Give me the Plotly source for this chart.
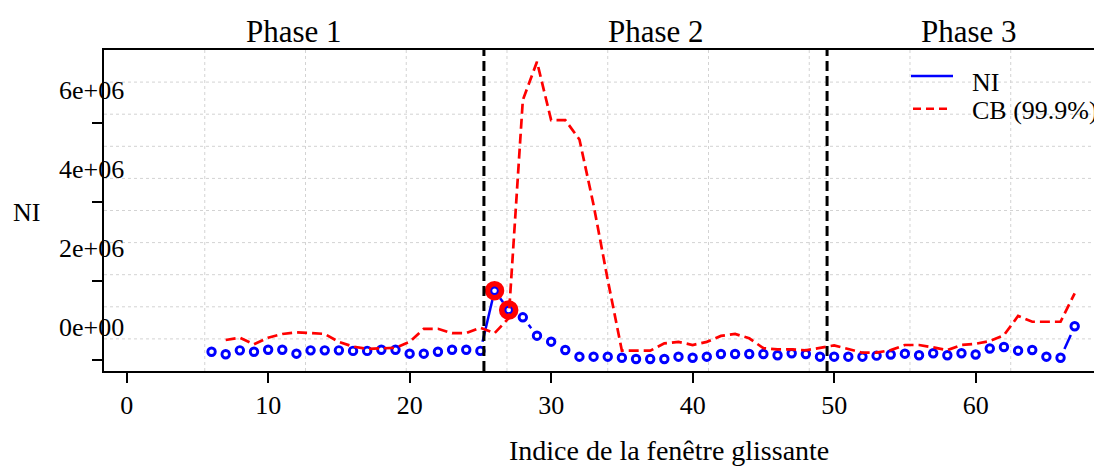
import math
import plotly.graph_objects as go

# ---------------- data ----------------
x_ni = list(range(6, 68))
ni_values = [
    0.21e6, 0.145e6, 0.245e6, 0.21e6, 0.26e6, 0.26e6, 0.16e6, 0.245e6, 0.245e6, 0.245e6,
    0.23e6, 0.23e6, 0.26e6, 0.26e6, 0.16e6, 0.16e6, 0.21e6, 0.26e6, 0.26e6, 0.23e6,
    1.757e6, 1.267e6, 1.082e6, 0.616e6, 0.464e6, 0.253e6, 0.084e6, 0.084e6, 0.084e6, 0.058e6,
    0.025e6, 0.025e6, 0.025e6, 0.084e6, 0.058e6, 0.084e6, 0.152e6, 0.152e6, 0.152e6, 0.152e6,
    0.12e6, 0.17e6, 0.152e6, 0.084e6, 0.084e6, 0.084e6, 0.084e6, 0.11e6, 0.14e6, 0.16e6,
    0.12e6, 0.17e6, 0.12e6, 0.17e6, 0.14e6, 0.29e6, 0.33e6, 0.236e6, 0.253e6, 0.084e6,
    0.058e6, 0.854e6,
]
x_cb = list(range(7, 68))
cb_values = [
    0.507e6, 0.565e6, 0.40e6, 0.565e6, 0.66e6, 0.70e6, 0.685e6, 0.66e6, 0.46e6, 0.34e6,
    0.28e6, 0.30e6, 0.31e6, 0.46e6, 0.79e6, 0.79e6, 0.68e6, 0.68e6, 0.82e6, 0.68e6,
    1.06e6, 6.59e6, 7.56e6, 6.08e6, 6.08e6, 5.59e6, 3.93e6, 2.03e6, 0.236e6, 0.236e6,
    0.236e6, 0.42e6, 0.46e6, 0.38e6, 0.46e6, 0.61e6, 0.66e6, 0.55e6, 0.30e6, 0.27e6,
    0.27e6, 0.245e6, 0.30e6, 0.37e6, 0.28e6, 0.185e6, 0.185e6, 0.25e6, 0.38e6, 0.38e6,
    0.32e6, 0.25e6, 0.38e6, 0.41e6, 0.48e6, 0.63e6, 1.115e6, 0.97e6, 0.97e6, 0.97e6,
    1.69e6,
]
highlight_x = [26, 27]
phase_bounds = [25.25, 49.5]
phase_labels = ["Phase 1", "Phase 2", "Phase 3"]
x_ticks = [0, 10, 20, 30, 40, 50, 60]
y_ticks = [0, 2e6, 4e6, 6e6]
y_tick_labels = ["0e+00", "2e+06", "4e+06", "6e+06"]
legend_labels = ["NI", "CB (99.9%)"]

# ---------------- layout geometry ----------------
OFF = 8                      # page body margin of the html page
W, H = 1102 - OFF, 466 - OFF
PL, PT, PB = 104, 50, 371    # plot region in page pixels
ML, MT, MB, MR = PL - OFF, PT - OFF, 466 - PB, 0
PW, PH = W - ML - MR, H - MT - MB
XR = (-1.6, 69.6)          # full plot-region range (right side cropped)
X_VIS = (-1.6, 68.93)      # visible part
YR = (-0.279e6, 7.858e6)
sx = PW / (X_VIS[1] - X_VIS[0])
sy = PH / (YR[1] - YR[0])

FONT = "Liberation Serif"
BLUE = "#0000FF"
RED = "#FF0000"

# type="b" style line: segments with gaps around each point
GAP = 9.5
seg_x, seg_y = [], []
for i in range(len(x_ni) - 1):
    xa, ya, xb, yb = x_ni[i], ni_values[i], x_ni[i + 1], ni_values[i + 1]
    d = math.hypot((xb - xa) * sx, (yb - ya) * sy)
    if d > 2 * GAP:
        f = GAP / d
        seg_x += [xa + (xb - xa) * f, xb - (xb - xa) * f, None]
        seg_y += [ya + (yb - ya) * f, yb - (yb - ya) * f, None]

hl_y = [ni_values[x_ni.index(v)] for v in highlight_x]

fig = go.Figure()
fig.add_trace(go.Scatter(x=seg_x, y=seg_y, mode="lines",
                         line=dict(color=BLUE, width=2.5), showlegend=False, hoverinfo="skip"))
fig.add_trace(go.Scatter(x=x_ni, y=ni_values, mode="markers", name=legend_labels[0],
                         marker=dict(symbol="circle-open", size=7.5, color=BLUE,
                                     line=dict(color=BLUE, width=2.9)),
                         showlegend=False))
fig.add_trace(go.Scatter(x=x_cb, y=cb_values, mode="lines", name=legend_labels[1],
                         line=dict(color=RED, width=2.7, dash="10px,5px"), showlegend=False))
fig.add_trace(go.Scatter(x=highlight_x, y=hl_y, mode="markers",
                         marker=dict(symbol="circle-open", size=14, color=RED,
                                     line=dict(color=RED, width=5.5)),
                         showlegend=False, hoverinfo="skip"))

shapes = []
# dotted grid: 10 equal cells of the plot region
for k in range(1, 10):
    gx = XR[0] + k * (XR[1] - XR[0]) / 10
    if gx < X_VIS[1]:
        shapes.append(dict(type="line", xref="x", yref="paper", x0=gx, x1=gx, y0=0, y1=1,
                           line=dict(color="#D3D3D3", width=1, dash="dot"), layer="below"))
    gy = YR[0] + k * (YR[1] - YR[0]) / 10
    shapes.append(dict(type="line", xref="paper", yref="y", x0=0, x1=1, y0=gy, y1=gy,
                       line=dict(color="#D3D3D3", width=1, dash="dot"), layer="below"))
# phase boundaries
for b in phase_bounds:
    shapes.append(dict(type="line", xref="x", yref="paper", x0=b, x1=b, y0=0, y1=1,
                       line=dict(color="black", width=3, dash="10px,5px")))


def px_to_paper(px, py):
    """page pixel -> paper fraction"""
    return (px - PL) / PW, (PB - py) / PH


# manual legend (R-style)
lx0, ly0 = px_to_paper(911, 76)
lx1, _ = px_to_paper(953, 76)
shapes.append(dict(type="line", xref="paper", yref="paper", x0=lx0, x1=lx1, y0=ly0, y1=ly0,
                   line=dict(color=BLUE, width=2.5)))
rx0, ry0 = px_to_paper(913, 108.7)
rx1, _ = px_to_paper(950, 108.7)
shapes.append(dict(type="line", xref="paper", yref="paper", x0=rx0, x1=rx1, y0=ry0, y1=ry0,
                   line=dict(color=RED, width=2.5, dash="8px,5px")))

annotations = []
tx, ty1 = px_to_paper(970, 82)
_, ty2 = px_to_paper(970, 110)
annotations.append(dict(text=legend_labels[0], xref="paper", yref="paper", x=tx, y=ty1,
                        xanchor="left", yanchor="middle", showarrow=False,
                        font=dict(family=FONT, size=26, color="black")))
annotations.append(dict(text=legend_labels[1], xref="paper", yref="paper", x=tx, y=ty2,
                        xanchor="left", yanchor="middle", showarrow=False,
                        font=dict(family=FONT, size=26, color="black")))

# y tick labels (shifted upward as in the reference)
for v, t in zip(y_ticks, y_tick_labels):
    annotations.append(dict(text=t, xref="paper", yref="y", x=0, y=v, xanchor="right",
                            yanchor="middle", xshift=22, yshift=32.5, showarrow=False,
                            font=dict(family=FONT, size=26, color="black")))

# phase labels
edges = [XR[0]] + phase_bounds + [XR[1]]
_, phase_y = px_to_paper(0, 31)
for i, lab in enumerate(phase_labels):
    annotations.append(dict(text=lab, xref="x", yref="paper", x=(edges[i] + edges[i + 1]) / 2,
                            y=phase_y, yanchor="middle", showarrow=False,
                            font=dict(family=FONT, size=31, color="black")))

# axis titles
nx, ny = px_to_paper(26, 212)
annotations.append(dict(text="NI", xref="paper", yref="paper", x=nx, y=ny,
                        xanchor="center", yanchor="middle", showarrow=False,
                        font=dict(family=FONT, size=26, color="black")))
_, tty = px_to_paper(0, 450)
annotations.append(dict(text="Indice de la fenêtre glissante", xref="x", yref="paper",
                        x=38.3, y=tty, yanchor="middle", showarrow=False,
                        font=dict(family=FONT, size=28, color="black")))

fig.update_layout(
    width=W, height=H,
    margin=dict(l=ML, r=MR, t=MT, b=MB, pad=0),
    paper_bgcolor="white", plot_bgcolor="white",
    shapes=shapes, annotations=annotations, showlegend=False,
    xaxis=dict(range=list(X_VIS), tickvals=x_ticks, ticks="outside", ticklen=10, tickwidth=1.5,
               tickcolor="black", showline=True, linecolor="black", linewidth=1.5, mirror=True,
               showgrid=False, zeroline=False,
               tickfont=dict(family=FONT, size=26, color="black")),
    yaxis=dict(range=list(YR), tickvals=y_ticks, ticks="outside", ticklen=10, tickwidth=1.5,
               tickcolor="black", showline=True, linecolor="black", linewidth=1.5, mirror=False,
               showticklabels=False, showgrid=False, zeroline=False),
)

fig.write_html("out.html", config={"displayModeBar": False})
